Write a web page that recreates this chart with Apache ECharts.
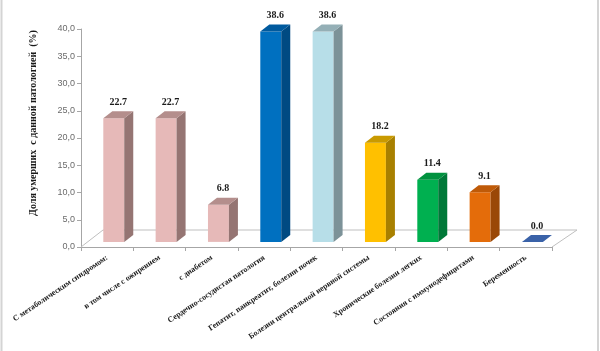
<!DOCTYPE html>
<html><head><meta charset="utf-8">
<script src="https://cdn.jsdelivr.net/npm/echarts@6/dist/echarts.min.js"></script>
<style>html,body{margin:0;padding:0;background:#fff}#c{width:600px;height:351px}</style>
</head><body><div id="c"></div>
<script>
const categories = [
  'С метаболическим синдромом:',
  'в том числе с ожирением',
  'с диабетом',
  'Сердечно-сосудистая патология',
  'Гепатит, панкреатит, болезни почек',
  'Болезни центральной нервной системы',
  'Хронические болезни легких',
  'Состояния с иммунодефицитами',
  'Беременность'
];
const values = [22.7, 22.7, 6.8, 38.6, 38.6, 18.2, 11.4, 9.1, 0.0];
const yTicks = [0, 5, 10, 15, 20, 25, 30, 35, 40];
const yTitle = 'Доля умерших  с данной патологией  (%)';

const frontColors = ['#E6B9B8','#E6B9B8','#E6B9B8','#0070C0','#B7DEE8','#FFC000','#00B050','#E46C0A','#2F5597'];
const sideColors  = ['#957573','#957573','#957573','#004A82','#7C9298','#A88000','#007838','#9A4807','#2F5597'];
const topColors   = ['#B48E8C','#B48E8C','#B48E8C','#005A9E','#94AFB6','#C99A00','#00923F','#BF5A08','#3A62A8'];

const DX = 22, DY = -17;         // floor depth
const OFX = DX*0.3, OFY = DY*0.3; // bar front plane offset
const BDX = DX*0.41, BDY = DY*0.41; // bar depth

const chart = echarts.init(document.getElementById('c'), null, {renderer:'canvas'});
const serif = '"Liberation Serif", "Times New Roman", serif';

chart.setOption({
  animation: false,
  grid: {left: 81, right: 48, top: 29, bottom: 104},
  xAxis: {
    type: 'category', data: categories,
    axisLine: {lineStyle: {color: '#A6A6A6'}},
    axisTick: {show: true, length: 4, lineStyle: {color: '#A6A6A6'}},
    axisLabel: {rotate: 34, margin: 10, fontFamily: serif, fontWeight: 'bold', fontSize: 8, color: '#1a1a1a', interval: 0}
  },
  yAxis: {
    type: 'value', min: 0, max: 40, interval: 5,
    axisLine: {show: true, lineStyle: {color: '#A6A6A6'}},
    axisTick: {show: true, length: 4, lineStyle: {color: '#A6A6A6'}},
    splitLine: {show: false},
    axisLabel: {margin: 6, fontFamily: '"Liberation Sans", Arial, sans-serif', fontSize: 9, color: '#6b6b6b',
      formatter: v => yTicks.includes(v) ? v.toFixed(1).replace('.', ',') : ''}
  },
  graphic: [
    {type: 'text', x: 33, y: 123, rotation: Math.PI/2,
     style: {text: yTitle, font: 'bold 10px ' + serif, fill: '#1a1a1a', textAlign: 'center', textVerticalAlign: 'middle', x: 0, y: 0}},
    {type: 'line', shape: {x1: 1.5, y1: 0, x2: 1.5, y2: 351}, style: {stroke: '#D4D4D4', lineWidth: 2}},
    {type: 'line', shape: {x1: 598, y1: 0, x2: 598, y2: 351}, style: {stroke: '#D4D4D4', lineWidth: 2}}
  ],
  series: [
    {
      type: 'custom', silent: true, z: 1,
      data: [[0]],
      renderItem: function (params, api) {
        const cs = params.coordSys;
        const l = cs.x, r = cs.x + cs.width, b = cs.y + cs.height;
        return {type: 'group', children: [
          {type: 'polyline', shape: {points: [[l, b], [l+DX, b+DY], [r+DX+3, b+DY], [r, b]]},
           style: {stroke: '#BFBFBF', lineWidth: 1, fill: null}}
        ]};
      }
    },
    {
      type: 'custom', z: 2,
      data: values.map((v, i) => [i, v]),
      renderItem: function (params, api) {
        const idx = api.value(0), v = api.value(1);
        const p0 = api.coord([idx, 0]);
        const p1 = api.coord([idx, v]);
        const bw = api.size([1, 0])[0];
        const w = bw * 0.4;
        const x0 = p0[0] - w/2 + OFX;
        const yb = p0[1] + OFY;
        const yt = p1[1] + OFY;
        const i = params.dataIndex;
        const children = [];
        if (v > 0) {
          children.push({type: 'rect', shape: {x: x0, y: yt, width: w, height: yb - yt}, style: {fill: frontColors[i]}});
          children.push({type: 'polygon', shape: {points: [[x0+w, yb], [x0+w, yt], [x0+w+BDX, yt+BDY], [x0+w+BDX, yb+BDY]]}, style: {fill: sideColors[i]}});
        }
        children.push({type: 'polygon', shape: {points: [[x0, yt], [x0+w, yt], [x0+w+BDX, yt+BDY], [x0+BDX, yt+BDY]]}, style: {fill: topColors[i]}});
        children.push({type: 'text', style: {text: v.toFixed(1), x: x0 + w/2 + BDX/2, y: yt + BDY - 9,
          textAlign: 'center', textVerticalAlign: 'middle', font: 'bold 10px ' + serif, fill: '#1a1a1a'}});
        return {type: 'group', children: children};
      }
    }
  ]
});
</script></body></html>
